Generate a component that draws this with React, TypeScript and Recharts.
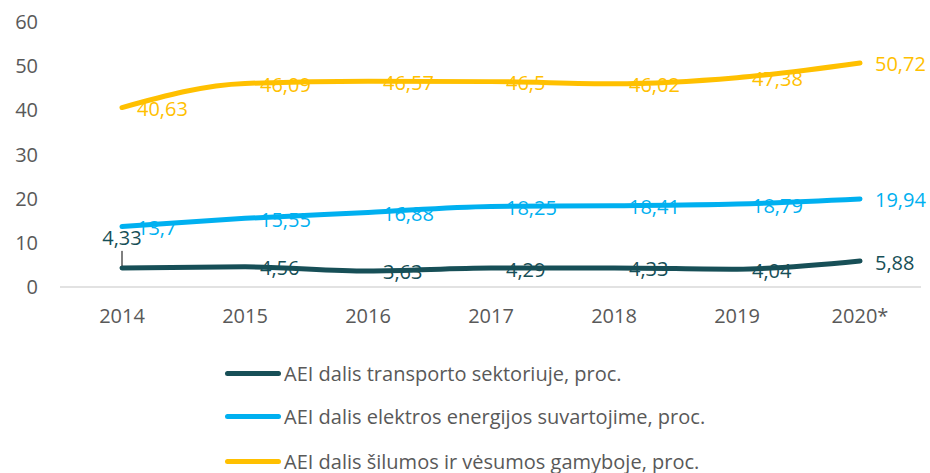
import React from "react";
import { LineChart, Line, XAxis, YAxis } from "recharts";

const years = ["2014", "2015", "2016", "2017", "2018", "2019", "2020*"];
const transport = [4.33, 4.56, 3.63, 4.29, 4.33, 4.04, 5.88];
const electricity = [13.7, 15.55, 16.88, 18.25, 18.41, 18.79, 19.94];
const heating = [40.63, 46.09, 46.57, 46.5, 46.02, 47.38, 50.72];
const yTicks = [0, 10, 20, 30, 40, 50, 60];

const seriesInfo = [
  { key: "transport", name: "AEI dalis transporto sektoriuje, proc.", color: "#174f57" },
  { key: "electricity", name: "AEI dalis elektros energijos suvartojime, proc.", color: "#00b0f0" },
  { key: "heating", name: "AEI dalis šilumos ir vėsumos gamyboje, proc.", color: "#ffc000" },
];

const data = years.map((year, i) => ({
  year,
  transport: transport[i],
  electricity: electricity[i],
  heating: heating[i],
}));

const FONT = "'Open Sans', sans-serif";
const fmt = (v: number) => String(v).replace(".", ",");

function makeLabel(color: string, leaderFirst: boolean) {
  return (props: any) => {
    const { x, y, value, index } = props;
    if (leaderFirst && index === 0) {
      return (
        <g>
          <line x1={x} y1={y - 2} x2={x} y2={y - 17} stroke="#000" strokeWidth={1} />
          <text x={x} y={y - 30} fill={color} fontSize={20} fontFamily={FONT} textAnchor="middle" dominantBaseline="central">
            {fmt(value)}
          </text>
        </g>
      );
    }
    return (
      <text x={x + 15} y={y + 1} fill={color} fontSize={20} fontFamily={FONT} textAnchor="start" dominantBaseline="central">
        {fmt(value)}
      </text>
    );
  };
}

function LegendBlock() {
  const rowsY = [373, 416, 461];
  return (
    <>
      {seriesInfo.map((s, i) => (
        <div
          key={s.key}
          style={{ position: "absolute", left: 225, top: rowsY[i] - 14, display: "flex", alignItems: "center", height: 28 }}
        >
          <div style={{ width: 56, height: 5, borderRadius: 3, background: s.color }} />
          <span style={{ marginLeft: 3, fontFamily: FONT, fontSize: 20, color: "#595959", whiteSpace: "nowrap" }}>{s.name}</span>
        </div>
      ))}
    </>
  );
}

export default function App() {
  return (
    <div style={{ position: "absolute", left: 0, top: 0, width: 930, height: 473, background: "#fff" }}>
      <LineChart width={930} height={473} data={data} margin={{ top: 22, right: 9, bottom: 146, left: 0 }}>
        <XAxis
          dataKey="year"
          axisLine={{ stroke: "#d9d9d9", strokeWidth: 1.5 }}
          tickLine={false}
          tickMargin={16}
          height={40}
          padding={{ left: 62, right: 61 }}
          tick={{ fill: "#595959", fontSize: 20, fontFamily: FONT }}
          interval={0}
        />
        <YAxis
          width={60}
          domain={[0, 60]}
          ticks={yTicks}
          axisLine={false}
          tickLine={false}
          tickMargin={16}
          tick={{ fill: "#595959", fontSize: 20, fontFamily: FONT }}
        />
        {seriesInfo
          .slice()
          .reverse()
          .map((s) => (
            <Line
              key={s.key}
              type="monotone"
              dataKey={s.key}
              name={s.name}
              stroke={s.color}
              strokeWidth={5}
              strokeLinecap="round"
              dot={false}
              activeDot={false}
              isAnimationActive={false}
              label={makeLabel(s.color, s.key === "transport")}
            />
          ))}
      </LineChart>
      <LegendBlock />
    </div>
  );
}
